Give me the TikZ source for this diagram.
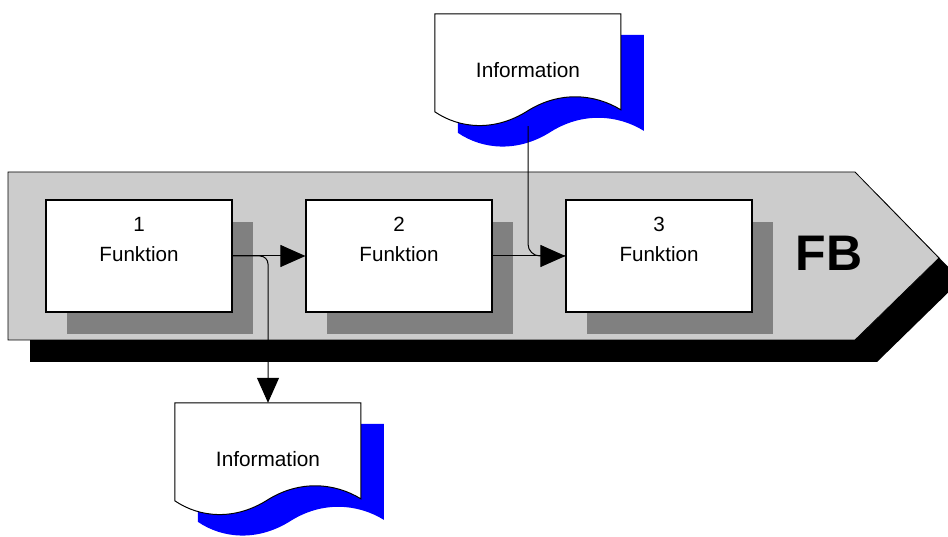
\documentclass[tikz,border=0pt]{standalone}
\usepackage{fontspec}
\setmainfont{Liberation Sans}
\usetikzlibrary{positioning,shadows,arrows.meta}
\definecolor{fb_gray}{RGB}{204, 204, 204}
\definecolor{box_shade}{RGB}{128, 128, 128}
\definecolor{doc_blue}{RGB}{0, 0, 255}
\pgfdeclarelayer{background}
\pgfsetlayers{background,main}
\tikzstyle{fn}=[rectangle,fill=white,draw=black,line width=1.2pt,
  minimum width=186pt,minimum height=112pt,
  drop shadow={shadow xshift=21pt,shadow yshift=-22pt,fill=box_shade,opacity=1}]
\tikzstyle{fntext}=[align=center,inner sep=0pt,font=\fontsize{20.6}{30}\selectfont]
\tikzstyle{doc}=[rectangle,inner sep=0pt,minimum width=186pt,minimum height=112pt,
  font=\fontsize{20.8}{24}\selectfont]
\tikzstyle{flow}=[line width=1pt,-{Triangle[length=25pt,width=22pt]}]

\begin{document}
\begin{tikzpicture}[x=1pt,y=-1pt]
    \useasboundingbox (0,0) rectangle (948,537);
    \clip (0,0) rectangle (948,537);
    % process arrow
    \fill[black] (30,194) -- (877,194) -- (961,280) -- (877,362) -- (30,362) -- cycle;
    \draw[fill=fb_gray,line width=0.8pt] (8,172) -- (855,172) -- (939,258) -- (855,340) -- (8,340) -- cycle;
    \node[font=\fontsize{50}{60}\selectfont\bfseries] (fb) at (829,253) {FB};
    % functions
    \node [style=fn] (f1) at (139,256) {};
    \node [style=fn] (f2) at (399,256) {};
    \node [style=fn] (f3) at (659,256) {};
    \node [style=fntext,below=18pt of f1.north] (f1text) {1\\Funktion};
    \node [style=fntext,below=18pt of f2.north] (f2text) {2\\Funktion};
    \node [style=fntext,below=18pt of f3.north] (f3text) {3\\Funktion};
    % documents
    \node [style=doc] (docT) at (528,70) {Information};
    \node [style=doc] (docB) at (268,459) {Information};
    \begin{pgfonlayer}{background}
      \foreach \d in {docT,docB} {
        \fill[doc_blue,shift={(\d.north west)},shift={(23,21)}] (0,0) -- (186,0) -- (186,96)
          .. controls (160,80) and (125,77) .. (93,97)
          .. controls (60,118) and (25,115) .. (0,98) -- cycle;
        \draw[fill=white,line width=1pt,shift={(\d.north west)}] (0,0) -- (186,0) -- (186,96)
          .. controls (160,80) and (125,77) .. (93,97)
          .. controls (60,118) and (25,115) .. (0,98) -- cycle;
      }
    \end{pgfonlayer}
    % connectors
    \draw [style=flow] (f1.east) to (f2.west);
    \draw [style=flow,rounded corners=8pt] (f1.east) -| (docB.north);
    \draw [style=flow] (f2.east) to (f3.west);
    \draw [line width=1pt,rounded corners=12pt] (docT.south) |- (f3.west);
\end{tikzpicture}
\end{document}
